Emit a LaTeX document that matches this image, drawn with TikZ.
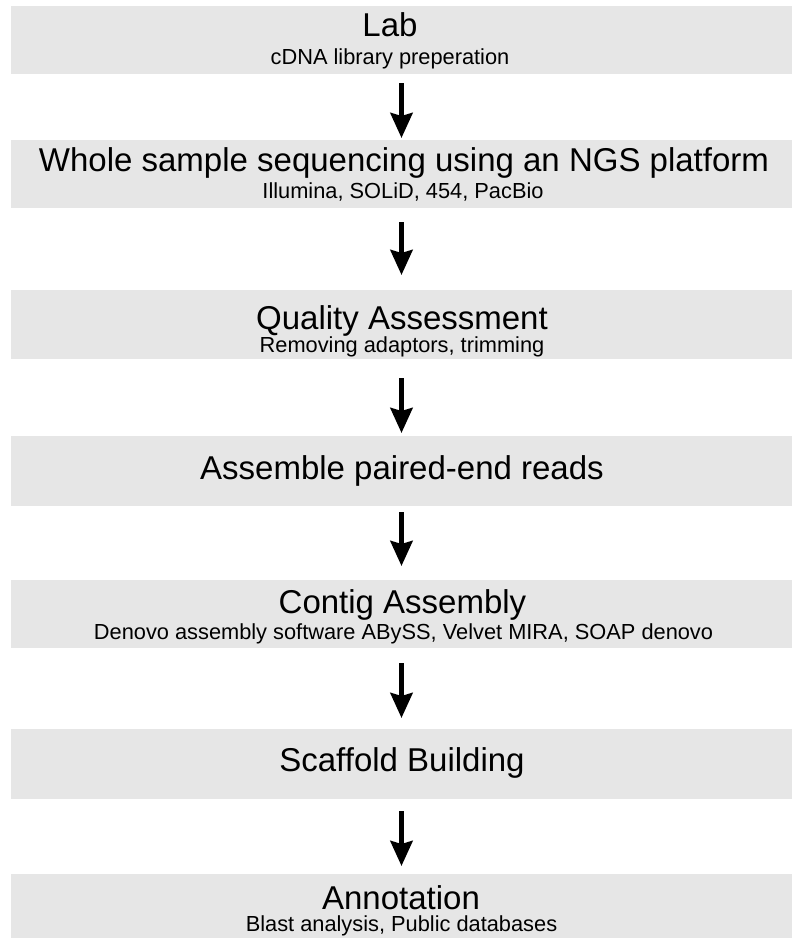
\documentclass[tikz,border=0pt]{standalone}
\usepackage{fontspec}
\setmainfont{Liberation Sans}
\usetikzlibrary{arrows.meta}
\definecolor{boxgray}{HTML}{E6E6E6}
\tikzset{
  stage/.style={fill=boxgray, draw=none, inner sep=0pt, minimum width=781pt, anchor=north},
  ttl/.style={anchor=base, inner sep=0pt, font=\fontsize{33}{40}\selectfont},
  sub/.style={anchor=base, inner sep=0pt, font=\fontsize{21.8}{26}\selectfont},
  flow/.style={line width=5pt, -{Stealth[length=25pt,width=22pt,inset=3pt]}}
}
\begin{document}
\begin{tikzpicture}[x=1pt,y=-1pt]
\useasboundingbox (0,0) rectangle (792,938);
\node[stage, minimum height=68pt] (b1) at (401.5,6) {};
\node[stage, minimum height=68pt] (b2) at (401.5,140) {};
\node[stage, minimum height=69pt] (b3) at (401.5,290) {};
\node[stage, minimum height=70pt] (b4) at (401.5,436) {};
\node[stage, minimum height=68pt] (b5) at (401.5,580) {};
\node[stage, minimum height=70pt] (b6) at (401.5,729) {};
\node[stage, minimum height=64pt] (b7) at (401.5,874) {};

\node[ttl] (t1) at (390,36) {Lab};
\node[sub] (s1) at (390,64) {cDNA library preperation};
\node[ttl] (t2) at (404,171) {Whole sample sequencing using an NGS platform};
\node[sub] (s2) at (403,198) {Illumina, SOLiD, 454, PacBio};
\node[ttl] (t3) at (402,329) {Quality Assessment};
\node[sub] (s3) at (402,352) {Removing adaptors, trimming};
\node[ttl] (t4) at (402,479) {Assemble paired-end reads};
\node[ttl] (t5) at (402.5,613) {Contig Assembly};
\node[sub] (s5) at (403.5,639) {Denovo assembly software ABySS, Velvet MIRA, SOAP denovo};
\node[ttl] (t6) at (402,771) {Scaffold Building};
\node[ttl] (t7) at (401,909) {Annotation};
\node[sub] (s7) at (401.5,931) {Blast analysis, Public databases};

\draw[flow, shorten <=9pt, shorten >=2pt] (b1.south) -- (b2.north);
\draw[flow, shorten <=14pt, shorten >=15pt] (b2.south) -- (b3.north);
\draw[flow, shorten <=19pt, shorten >=3pt] (b3.south) -- (b4.north);
\draw[flow, shorten <=6pt, shorten >=14pt] (b4.south) -- (b5.north);
\draw[flow, shorten <=15pt, shorten >=11pt] (b5.south) -- (b6.north);
\draw[flow, shorten <=12pt, shorten >=8pt] (b6.south) -- (b7.north);
\end{tikzpicture}
\end{document}
